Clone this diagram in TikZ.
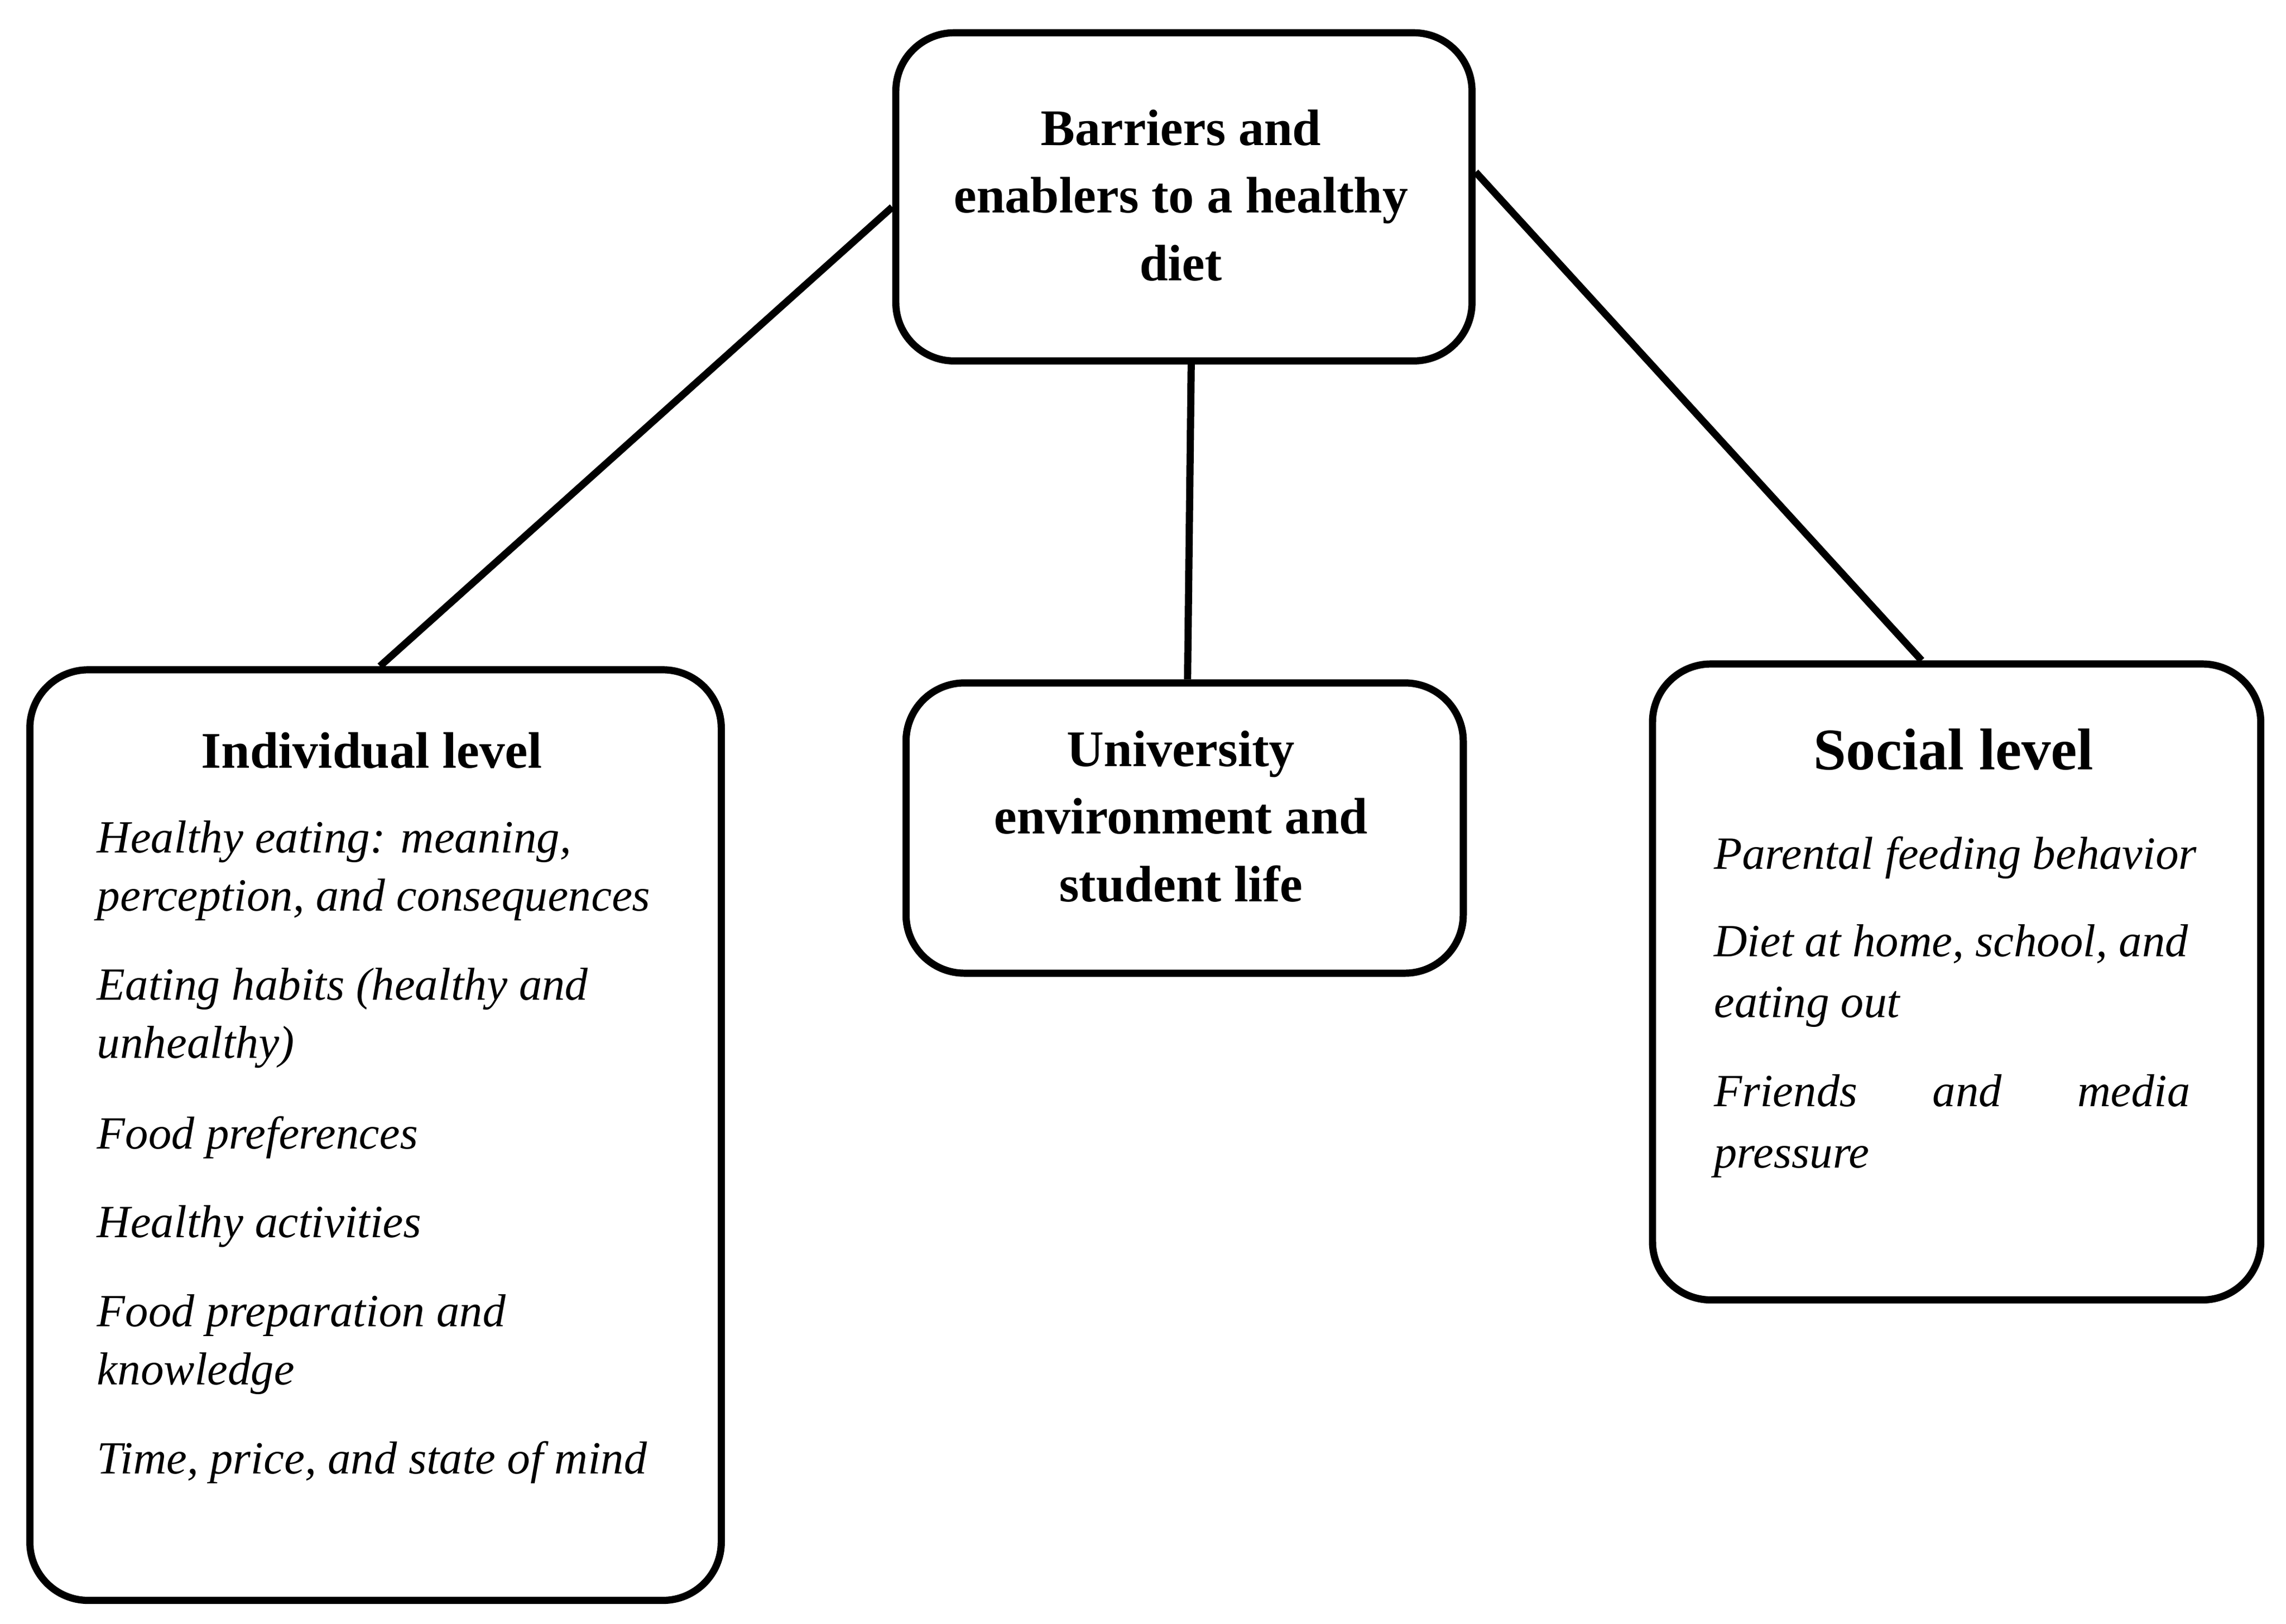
\documentclass[tikz,border=0pt]{standalone}
\usepackage{fontspec}
\setmainfont{Liberation Serif}
\begin{document}
\begin{tikzpicture}[x=0.01cm,y=-0.01cm,
 box/.style={draw,line width=1.4pt,rounded corners=0.4cm,anchor=north west,inner sep=0},
 hd/.style={font=\fontsize{10}{13.2}\selectfont\bfseries,align=center},
 it/.style={font=\fontsize{9}{11}\selectfont\itshape,anchor=base west,inner sep=0},
 ln/.style={line width=1.4pt}]
\useasboundingbox (0,0) rectangle (1568,1114);
\node[box,minimum width=3.95cm,minimum height=2.25cm] (top) at (612,20) {};
\node[box,minimum width=4.74cm,minimum height=6.38cm] (ind) at (18,457) {};
\node[box,minimum width=3.82cm,minimum height=1.99cm] (uni) at (619,466) {};
\node[box,minimum width=4.17cm,minimum height=4.36cm] (soc) at (1131,453) {};
\node[hd] (tt) at (810,134) {Barriers and\\enablers to a healthy\\diet};
\node[hd] (ut) at (810,560) {University\\environment and\\student life};
\node[hd] (it0) at (255,515) {Individual level};
\node[font=\fontsize{11.5}{13}\selectfont\bfseries] (st) at (1340,514) {Social level};
\node[it] (i1) at (66,585) {Healthy eating: meaning,};
\node[it] (i2) at (66,625) {perception, and consequences};
\node[it] (i3) at (66,686) {Eating habits (healthy and};
\node[it] (i4) at (66,726) {unhealthy)};
\node[it] (i5) at (66,788) {Food preferences};
\node[it] (i6) at (66,849) {Healthy activities};
\node[it] (i7) at (66,910) {Food preparation and};
\node[it] (i8) at (66,950) {knowledge};
\node[it] (i9) at (66,1011) {Time, price, and state of mind};
\node[it] (s1) at (1175,596) {Parental feeding behavior};
\node[it] (s2) at (1175,656) {Diet at home, school, and};
\node[it] (s3) at (1175,698) {eating out};
\node[it] (s4) at (1175,759) {Friends};
\node[it] (s5) at (1325,759) {and};
\node[it,anchor=base east] (s6) at (1503,759) {media};
\node[it] (s7) at (1175,801) {pressure};
\draw[ln] ([yshift=-0.07cm]top.west) -- ([xshift=0.03cm]ind.north);
\draw[ln] ([xshift=0.05cm]top.south) -- ([xshift=0.02cm]uni.north);
\draw[ln] ([yshift=0.17cm]top.east) -- ([xshift=-0.24cm]soc.north);
\end{tikzpicture}
\end{document}
